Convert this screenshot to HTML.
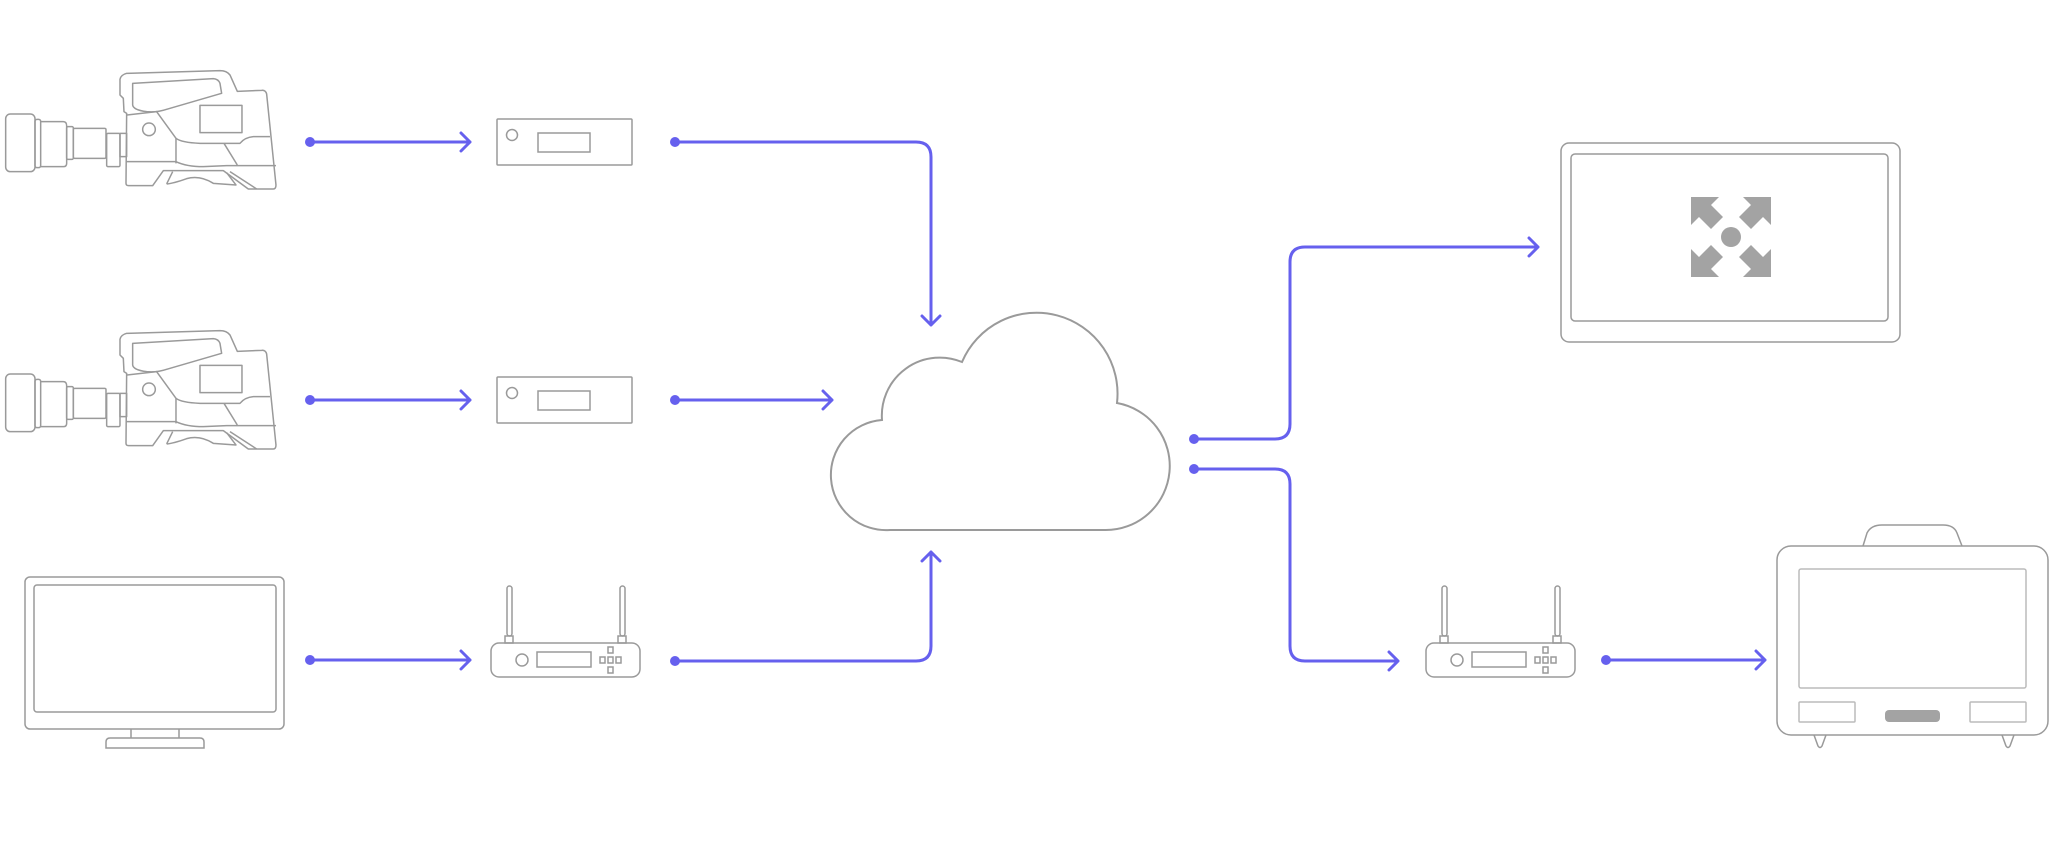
<!DOCTYPE html>
<html><head><meta charset="utf-8"><style>html,body{margin:0;padding:0;background:#fff}svg{display:block}</style></head>
<body>
<svg width="2049" height="864" viewBox="0 0 2049 864" xmlns="http://www.w3.org/2000/svg">
<defs>
<g id="cam" fill="none" stroke="#9a9a9a" stroke-width="4.5" stroke-linejoin="round">
  <rect x="17" y="282" width="88" height="173" rx="14"/>
  <rect x="105" y="298" width="17" height="145" rx="6"/>
  <path d="M122 305 H190 Q200 305 200 318 V430 Q200 440 190 440 H122"/>
  <rect x="200" y="320" width="20" height="98" rx="4"/>
  <rect x="220" y="325" width="98" height="90" rx="4"/>
  <rect x="320" y="340" width="40" height="100" rx="4"/>
  <rect x="360" y="340" width="20" height="70"/>
  <path d="M380 280 L378 490 Q378 497 386 497 L458 497 L490 452 L670 452 L745 507 L820 507 Q828 507 828 495 L800 222 Q797 210 785 211 L712 214 L690 165 Q680 152 660 152 L380 160 Q362 165 360 178 L360 225 L370 235 L372 275 Z"/>
  <path d="M398 190 L640 176 Q655 177 660 190 L665 220 L500 268 Q470 278 440 275 Q400 270 398 255 Z"/>
  <path d="M380 285 L470 275 L528 355 L528 430"/>
  <path d="M378 425 L528 425 Q560 440 610 440 L680 437 L828 437"/>
  <path d="M528 355 Q545 368 600 370 L720 370 Q735 352 760 350 L810 350"/>
  <path d="M672 370 L712 435"/>
  <rect x="600" y="256" width="126" height="82"/>
  <circle cx="447" cy="328" r="19"/>
  <path d="M500 492 L518 455 M500 492 Q520 490 560 476 Q600 465 640 490 L708 495 L680 458"/>
  <path d="M690 455 L770 507"/>
</g>
<g id="router" fill="none" stroke="#9a9a9a" stroke-width="1.5">
  <rect x="491" y="643" width="149" height="34" rx="8"/>
  <rect x="507" y="586" width="5" height="50" rx="2.5"/>
  <rect x="620" y="586" width="5" height="50" rx="2.5"/>
  <rect x="505" y="636" width="8" height="7"/>
  <rect x="618" y="636" width="8" height="7"/>
  <circle cx="522" cy="660" r="6"/>
  <rect x="537" y="652" width="54" height="15"/>
  <rect x="600" y="657" width="5" height="6"/>
  <rect x="608" y="657" width="5" height="6"/>
  <rect x="616" y="657" width="5" height="6"/>
  <rect x="608" y="647" width="5" height="6"/>
  <rect x="608" y="667" width="5" height="6"/>
</g>
<g id="box" fill="none" stroke="#9a9a9a" stroke-width="1.5">
  <rect x="497" y="119" width="135" height="46" rx="1"/>
  <circle cx="512" cy="135" r="5.5"/>
  <rect x="538" y="133" width="52" height="19"/>
</g>
</defs>

<use href="#cam" transform="translate(0,20) scale(0.3333)"/>
<use href="#cam" transform="translate(0,280) scale(0.3333)"/>
<use href="#box"/>
<use href="#box" transform="translate(0,258)"/>
<use href="#router"/>
<use href="#router" transform="translate(935,0)"/>

<g fill="none" stroke="#9a9a9a" stroke-width="1.5">
  <rect x="25" y="577" width="259" height="152" rx="5"/>
  <rect x="34" y="585" width="242" height="127" rx="3"/>
  <path d="M131 729 V738 M179 729 V738"/>
  <path d="M106 748 V742 Q106 738 110 738 H200 Q204 738 204 742 V748 Z"/>
</g>

<path d="M890 530 A55 55 0 0 1 882 420 A58 58 0 0 1 962 362 A81 81 0 0 1 1117 403 A64 64 0 0 1 1105 530 Z" fill="none" stroke="#9a9a9a" stroke-width="2"/>

<g fill="none" stroke="#9a9a9a" stroke-width="1.5">
  <rect x="1561" y="143" width="339" height="199" rx="8"/>
  <rect x="1571" y="154" width="317" height="167" rx="4"/>
</g>
<g transform="translate(1691,197)" fill="#a3a3a3">
  <polygon points="0,0 28,0 20,8 32,20 20,32 8,20 0,28"/>
  <polygon points="80,0 52,0 60,8 48,20 60,32 72,20 80,28"/>
  <polygon points="0,80 28,80 20,72 32,60 20,48 8,60 0,52"/>
  <polygon points="80,80 52,80 60,72 48,60 60,48 72,60 80,52"/>
  <circle cx="40" cy="40" r="10"/>
</g>

<g fill="none" stroke="#9a9a9a" stroke-width="1.5">
  <rect x="1777" y="546" width="271" height="189" rx="14"/>
  <path d="M1863 546 L1867 533 Q1871 525 1882 525 L1943 525 Q1954 525 1957 533 L1962 546"/>
  <rect x="1799" y="569" width="227" height="119" rx="2" stroke="#bbb"/>
  <rect x="1799" y="702" width="56" height="20" rx="1" stroke="#bbb"/>
  <rect x="1970" y="702" width="56" height="20" rx="1" stroke="#bbb"/>
  <path d="M1814 735 L1818 746 Q1820 749 1822 746 L1826 735 M2002 735 L2006 746 Q2008 749 2010 746 L2014 735"/>
</g>
<rect x="1885" y="710" width="55" height="12" rx="4" fill="#a3a3a3"/>

<g fill="none" stroke="#6660ee" stroke-width="3" stroke-linecap="round" stroke-linejoin="round">
  <path d="M310 142 H470 M461 133 L470 142 L461 151"/>
  <path d="M310 400 H470 M461 391 L470 400 L461 409"/>
  <path d="M310 660 H470 M461 651 L470 660 L461 669"/>
  <path d="M675 400 H832 M823 391 L832 400 L823 409"/>
  <path d="M675 142 H916 Q931 142 931 157 V325 M922 316 L931 325 L940 316"/>
  <path d="M675 661 H916 Q931 661 931 646 V552 M922 561 L931 552 L940 561"/>
  <path d="M1194 439 H1275 Q1290 439 1290 424 V262 Q1290 247 1305 247 H1538 M1529 238 L1538 247 L1529 256"/>
  <path d="M1194 469 H1275 Q1290 469 1290 484 V646 Q1290 661 1305 661 H1398 M1389 652 L1398 661 L1389 670"/>
  <path d="M1606 660 H1765 M1756 651 L1765 660 L1756 669"/>
</g>
<g fill="#6660ee">
  <circle cx="310" cy="142" r="5"/><circle cx="310" cy="400" r="5"/><circle cx="310" cy="660" r="5"/>
  <circle cx="675" cy="142" r="5"/><circle cx="675" cy="400" r="5"/><circle cx="675" cy="661" r="5"/>
  <circle cx="1194" cy="439" r="5"/><circle cx="1194" cy="469" r="5"/><circle cx="1606" cy="660" r="5"/>
</g>
</svg>
</body></html>
